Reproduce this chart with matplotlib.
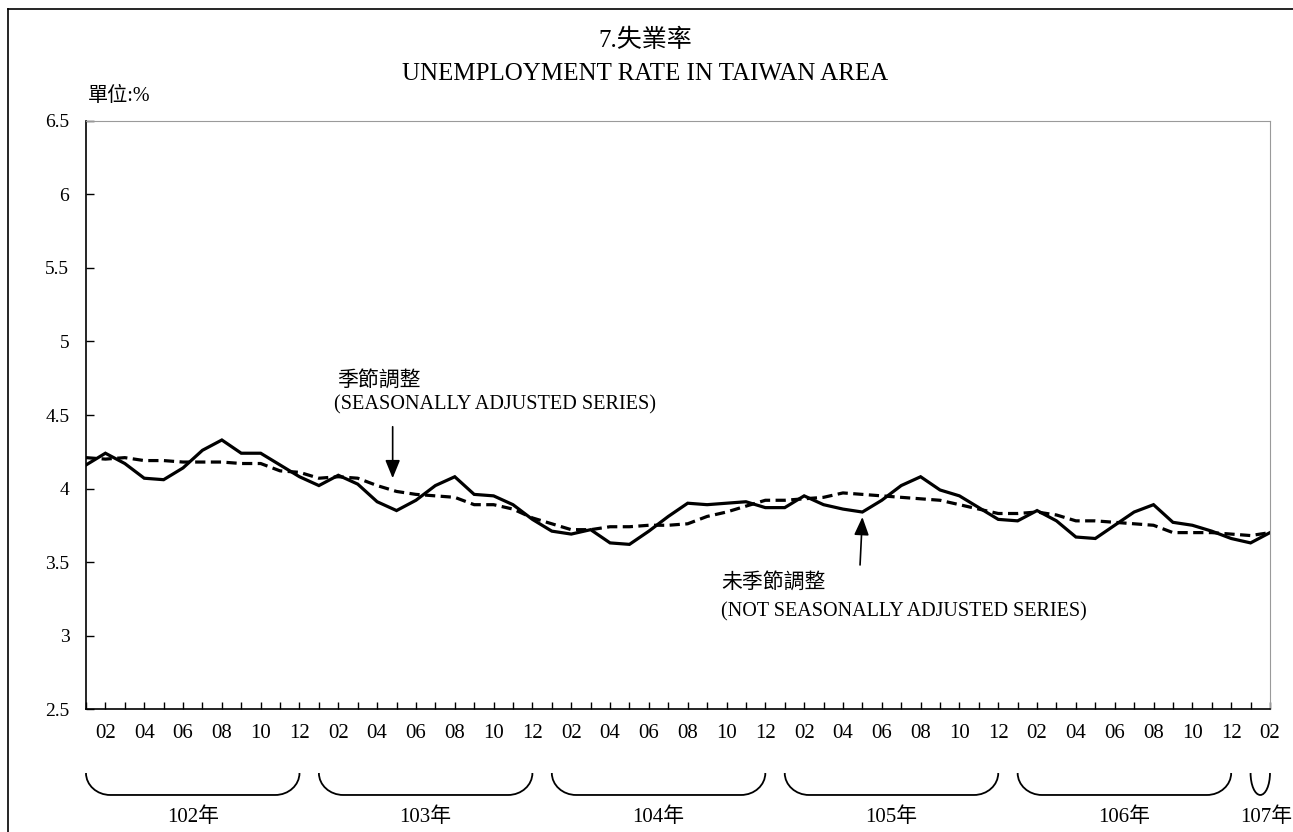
import matplotlib
matplotlib.use("Agg")
import matplotlib.pyplot as plt
import matplotlib.transforms as mtransforms
from matplotlib.path import Path
from matplotlib.patches import PathPatch
import numpy as np

plt.rcParams["font.family"] = ["Liberation Serif", "Noto Sans CJK TC", "DejaVu Sans"]

# 102年01月 .. 107年02月
annees = ["102年", "103年", "104年", "105年", "106年", "107年"]
mois_par_annee = [12, 12, 12, 12, 12, 2]

non_ajuste = [
    4.16, 4.24, 4.17, 4.07, 4.06, 4.14, 4.26, 4.33, 4.24, 4.24, 4.16, 4.08,
    4.02, 4.09, 4.03, 3.91, 3.85, 3.92, 4.02, 4.08, 3.96, 3.95, 3.89, 3.79,
    3.71, 3.69, 3.72, 3.63, 3.62, 3.71, 3.81, 3.90, 3.89, 3.90, 3.91, 3.87,
    3.87, 3.95, 3.89, 3.86, 3.84, 3.92, 4.02, 4.08, 3.99, 3.95, 3.87, 3.79,
    3.78, 3.85, 3.78, 3.67, 3.66, 3.75, 3.84, 3.89, 3.77, 3.75, 3.71, 3.66,
    3.63, 3.70,
]
ajuste = [
    4.21, 4.20, 4.21, 4.19, 4.19, 4.18, 4.18, 4.18, 4.17, 4.17, 4.12, 4.11,
    4.07, 4.08, 4.07, 4.02, 3.98, 3.96, 3.95, 3.94, 3.89, 3.89, 3.86, 3.80,
    3.76, 3.72, 3.72, 3.74, 3.74, 3.75, 3.75, 3.76, 3.81, 3.84, 3.88, 3.92,
    3.92, 3.93, 3.94, 3.97, 3.96, 3.95, 3.94, 3.93, 3.92, 3.89, 3.86, 3.83,
    3.83, 3.84, 3.82, 3.78, 3.78, 3.77, 3.76, 3.75, 3.70, 3.70, 3.70, 3.69,
    3.68, 3.70,
]

mois = []
for n in mois_par_annee:
    mois += [f"{m:02d}" for m in range(1, n + 1)]
x = np.arange(len(mois))

fig = plt.figure(figsize=(12.93, 8.32), dpi=100)
ax = fig.add_axes([0.0665, 0.1478, 0.9157, 0.7068])

ax.plot(x, non_ajuste, color="black", lw=2.3, solid_joinstyle="miter")
ax.plot(x, ajuste, color="black", lw=2.3, linestyle=(0, (3.2, 1.7)))

ax.set_xlim(0, len(mois) - 1)
ax.set_ylim(2.5, 6.5)
ax.set_yticks([2.5, 3, 3.5, 4, 4.5, 5, 5.5, 6, 6.5])
ax.set_yticklabels(["2.5", "3", "3.5", "4", "4.5", "5", "5.5", "6", "6.5"])
ax.set_xticks(x)
ax.set_xticklabels([m if int(m) % 2 == 0 else "" for m in mois])
ax.tick_params(axis="x", direction="in", length=5, width=1, pad=11, labelsize=15)
ax.tick_params(axis="y", direction="in", length=6, width=1, pad=12, labelsize=14)
for cote in ["top", "right"]:
    ax.spines[cote].set_color("#9a9a9a")
for cote in ["left", "bottom"]:
    ax.spines[cote].set_color("black")
    ax.spines[cote].set_linewidth(1.2)

fig.text(0.499, 0.951, "7.失業率", ha="center", va="center", fontsize=18)
fig.text(0.499, 0.911, "UNEMPLOYMENT RATE IN TAIWAN AREA", ha="center", va="center", fontsize=18)
fig.text(0.068, 0.884, "單位:%", ha="left", va="center", fontsize=14.5)

fleche = dict(arrowstyle="-|>,head_length=1.1,head_width=0.45", color="black", lw=1.2,
              shrinkA=0, shrinkB=0)
ax.annotate("", xy=(15.8, 4.07), xytext=(15.8, 4.42), arrowprops=fleche)
fig.text(0.261, 0.542, "季節調整", ha="left", va="center", fontsize=15)
fig.text(0.258, 0.513, "(SEASONALLY ADJUSTED SERIES)", ha="left", va="center", fontsize=14.6)

ax.annotate("", xy=(40.0, 3.806), xytext=(39.88, 3.48), arrowprops=fleche)
fig.text(0.558, 0.300, "未季節調整", ha="left", va="center", fontsize=15)
fig.text(0.558, 0.265, "(NOT SEASONALLY ADJUSTED SERIES)", ha="left", va="center", fontsize=14.5)

# accolades sous les années
trans = mtransforms.blended_transform_factory(ax.transData, fig.transFigure)
haut, bas = 0.0709, 0.0445
debut = 0
for annee, n in zip(annees, mois_par_annee):
    x0, x1 = debut, debut + n - 1
    rx = min(1.25, (x1 - x0) / 2)
    h = haut - bas
    k = 0.552
    verts = [
        (x0, haut), (x0, haut - k * h), (x0 + rx - k * rx, bas), (x0 + rx, bas),
        (x1 - rx, bas),
        (x1 - rx + k * rx, bas), (x1, haut - k * h), (x1, haut),
    ]
    codes = [Path.MOVETO, Path.CURVE4, Path.CURVE4, Path.CURVE4,
             Path.LINETO, Path.CURVE4, Path.CURVE4, Path.CURVE4]
    ax.add_patch(PathPatch(Path(verts, codes), transform=trans, fill=False,
                           lw=1.3, color="black", clip_on=False))
    ax.text((x0 + x1) / 2 + (0.3 if n < 12 else 0), 0.018, annee, transform=trans,
            ha="center", va="center", fontsize=15, clip_on=False)
    debut += n

# cadre extérieur
fig.add_artist(plt.Line2D([0.0062, 0.0062], [0.0, 0.9892], transform=fig.transFigure, color="black", lw=1.2))
fig.add_artist(plt.Line2D([0.0062, 1.0], [0.9892, 0.9892], transform=fig.transFigure, color="black", lw=1.2))

fig.savefig("out.png", dpi=100)
